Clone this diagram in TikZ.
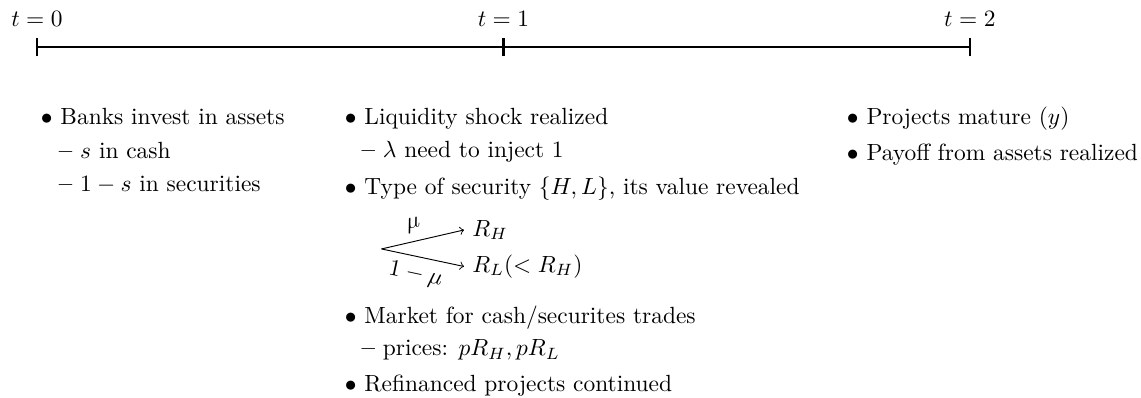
\documentclass[tikz,border=0pt]{standalone}
\usetikzlibrary{positioning}

\begin{document}
\begin{tikzpicture}[>=to,
      axis/.style={very thick},
      pt/.style={anchor=base west, inner sep=0pt},
      sub/.style={anchor=base west, inner sep=0pt}]
    \useasboundingbox (-0.555,0.705) rectangle (16.567,-5.267);
    % time line
    \coordinate (t0) at (0,0);
    \coordinate (t1) at (7,0);
    \coordinate (t2) at (14,0);
    \draw[axis] (t0) -- (t2);
    \foreach \p in {t0,t1,t2}
      \draw[axis] ([yshift=-0.14cm]\p) -- ([yshift=0.14cm]\p);
    \node[above=0.19cm of t0] (l0) {$t=0$};
    \node[above=0.19cm of t1] (l1) {$t=1$};
    \node[above=0.19cm of t2] (l2) {$t=2$};
    % t = 0
    \node[pt] (a1) at (0.053,-1.170) {$\bullet$ Banks invest in assets};
    \node[below=0.503cm of a1.base west, xshift=0.27cm, sub] (a2) {\textbf{--} $s$ in cash};
    \node[below=0.503cm of a2.base west, sub] (a3) {\textbf{--} $1-s$ in securities};
    % t = 1
    \node[pt] (b1) at (4.614,-1.170) {$\bullet$ Liquidity shock realized};
    \node[below=0.495cm of b1.base west, xshift=0.25cm, sub] (b2) {\textbf{--} $\lambda$ need to inject 1};
    \node[below=1.051cm of b1.base west, pt] (b3) {$\bullet$ Type of security $\{H,L\}$, its value revealed};
    \coordinate (o) at (5.17,-3.031);
    \node[anchor=west] (rh) at (6.408,-2.746) {$R_H$};
    \node[anchor=west] (rl) at (6.408,-3.294) {$R_L(<R_H)$};
    \draw[->] (o) -- node[sloped, above, pos=0.43] (mu) {$\mu$} (rh.west);
    \draw[->] (o) -- node[sloped, below, pos=0.46] (nmu) {$1-\mu$} (rl.west);
    \node[below=1.936cm of b3.base west, pt] (b4) {$\bullet$ Market for cash/securites trades};
    \node[below=0.48cm of b4.base west, xshift=0.25cm, sub] (b5) {\textbf{--} prices: $pR_H, pR_L$};
    \node[below=1.02cm of b4.base west, pt] (b6) {$\bullet$ Refinanced projects continued};
    % t = 2
    \node[pt] (c1) at (12.148,-1.170) {$\bullet$ Projects mature ($y$)};
    \node[below=0.541cm of c1.base west, pt] (c2) {$\bullet$ Payoff from assets realized};
  \end{tikzpicture}
\end{document}
